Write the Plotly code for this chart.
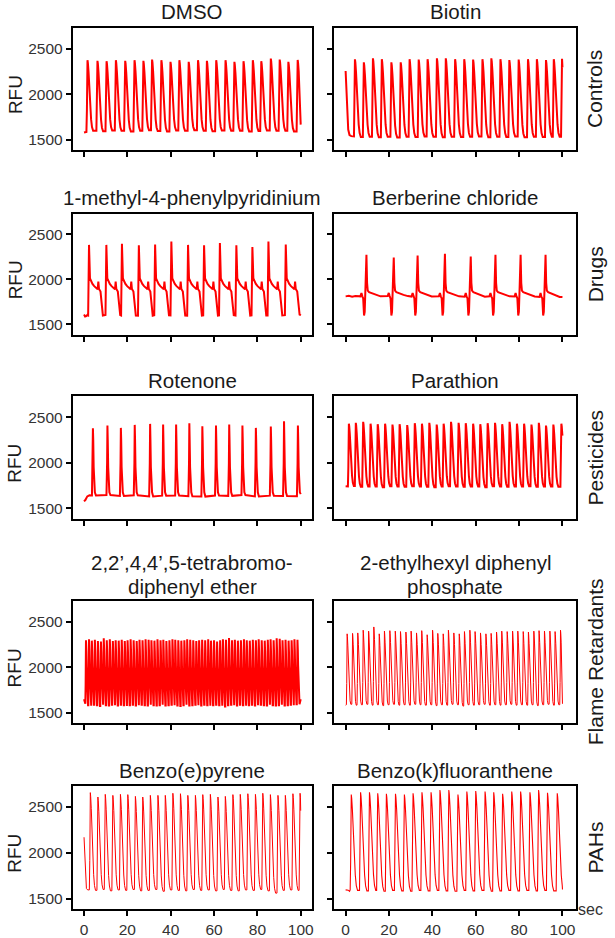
import plotly.graph_objects as go

# ---------------- text ----------------
panel_titles = ["DMSO", "Biotin",
                "1-methyl-4-phenylpyridinium", "Berberine chloride",
                "Rotenone", "Parathion",
                ["2,2\u2019,4,4\u2019,5-tetrabromo-", "diphenyl ether"],
                ["2-ethylhexyl diphenyl", "phosphate"],
                "Benzo(e)pyrene", "Benzo(k)fluoranthene"]
row_labels = ["Controls", "Drugs", "Pesticides", "Flame Retardants", "PAHs"]
x_ticks = [0, 20, 40, 60, 80, 100]
y_ticks = [1500, 2000, 2500]
y_title = "RFU"
x_unit = "sec"

# ---------------- values (sec, RFU) ----------------
dmso_peak_t = [1.6, 6.2, 10.4, 14.7, 19.0, 23.3, 27.4, 31.4, 35.7, 39.9, 44.0, 48.3,
               52.6, 56.7, 61.0, 65.3, 69.4, 73.6, 77.9, 81.8, 86.2, 90.3, 94.3, 98.6]
dmso_peak_v = [2374, 2367, 2363, 2374, 2367, 2374, 2367, 2381, 2374, 2356, 2374, 2356,
               2374, 2367, 2374, 2374, 2356, 2363, 2374, 2363, 2392, 2381, 2356, 2377]
dmso_base_v = [1585, 1598, 1592, 1600, 1596, 1590, 1598, 1602, 1594, 1590, 1600, 1596,
               1604, 1598, 1592, 1600, 1596, 1598, 1590, 1594, 1600, 1596, 1598, 1590]
dmso_lead = [(0.0, 1578), (0.7, 1582)]
dmso_tail = (100.0, 1665)

biotin_peak_t = [4.3, 8.4, 12.6, 16.7, 21.1, 25.4, 29.5, 33.7, 37.8, 42.1, 46.2, 50.5,
                 54.7, 58.8, 63.1, 67.2, 71.4, 75.5, 79.8, 84.1, 88.2, 92.4, 96.0, 99.8]
biotin_peak_v = [2383, 2350, 2395, 2385, 2350, 2350, 2385, 2380, 2385, 2395, 2395, 2385,
                 2385, 2380, 2385, 2395, 2385, 2375, 2380, 2385, 2385, 2375, 2385, 2390]
biotin_base_v = [1535, 1528, 1532, 1525, 1530, 1522, 1530, 1528, 1535, 1530, 1525, 1532,
                 1528, 1530, 1535, 1526, 1530, 1528, 1533, 1525, 1530, 1528, 1532, 1530]
biotin_lead = [(0.0, 2255), (0.35, 2020), (0.75, 1780), (1.2, 1610), (1.8, 1550), (2.6, 1538)]
biotin_tail = (100.0, 2295)

mpp_peak_t = [2.3, 10.3, 17.5, 25.3, 32.8, 40.3, 48.0, 55.4, 62.7, 70.3, 77.7, 85.1, 93.1]
mpp_peak_v = [2383, 2383, 2395, 2380, 2387, 2420, 2383, 2380, 2405, 2380, 2360, 2420, 2387]
mpp_base_v = [1600, 1605, 1600, 1598, 1602, 1600, 1598, 1600, 1602, 1598, 1600, 1600, 1603]
mpp_lead = [(0.0, 1610), (0.5, 1588), (1.0, 1592), (1.5, 1605)]
mpp_tail = (100.0, 1615)

berb_peak_t = [9.6, 22.2, 33.2, 45.8, 57.7, 69.1, 80.7, 92.2]
berb_peak_v = [2273, 2244, 2265, 2285, 2255, 2273, 2273, 2273]
berb_base_v = [1812, 1815, 1810, 1812, 1808, 1812, 1810, 1806]
berb_lead = [(0.0, 1812), (1.5, 1818), (3.0, 1808), (4.5, 1815)]
berb_tail = (100.0, 1805)

rot_peak_t = [4.1, 10.8, 17.0, 23.4, 30.5, 36.5, 42.5, 48.6, 54.6, 60.9, 67.0, 73.1,
              79.3, 86.2, 92.3, 98.7]
rot_peak_v = [2381, 2410, 2384, 2417, 2428, 2421, 2421, 2435, 2403, 2410, 2421, 2410,
              2384, 2399, 2457, 2410]
rot_base_v = [1640, 1645, 1635, 1642, 1630, 1638, 1640, 1632, 1628, 1640, 1636, 1645,
              1630, 1638, 1635, 1632]
rot_lead = [(0.0, 1575), (0.6, 1590), (1.5, 1630), (2.5, 1642)]
rot_tail = (100.0, 1655)

para_peak_t = [1.5, 4.7, 8.1, 11.5, 14.8, 18.2, 21.6, 24.9, 28.4, 31.9, 35.2, 38.6,
               42.0, 45.2, 48.6, 52.1, 55.4, 58.8, 62.1, 65.5, 68.9, 72.2, 75.6, 79.0,
               82.3, 85.7, 89.1, 92.4, 95.8, 99.5]
para_peak_v = [2430, 2440, 2450, 2430, 2425, 2430, 2420, 2425, 2415, 2435, 2430, 2440,
               2420, 2430, 2450, 2440, 2435, 2430, 2425, 2435, 2440, 2425, 2450, 2430,
               2430, 2420, 2440, 2410, 2420, 2430]
para_base_v = [1740, 1745, 1735, 1740, 1738, 1730, 1742, 1738, 1735, 1742, 1740, 1735,
               1730, 1738, 1742, 1740, 1735, 1738, 1740, 1732, 1742, 1738, 1735, 1740,
               1738, 1742, 1735, 1738, 1740, 1736]
para_lead = [(0.0, 1742)]
para_tail = (100.0, 2300)

tbde_peak_t = [0.9, 2.3, 3.6, 5.0, 6.4, 7.8, 9.1, 10.5, 11.9, 13.3,
               14.6, 16.0, 17.4, 18.8, 20.1, 21.5, 22.9, 24.3, 25.6, 27.0,
               28.4, 29.8, 31.1, 32.5, 33.9, 35.3, 36.6, 38.0, 39.4, 40.8,
               42.1, 43.5, 44.9, 46.3, 47.6, 49.0, 50.4, 51.8, 53.1, 54.5,
               55.9, 57.3, 58.6, 60.0, 61.4, 62.8, 64.1, 65.5, 66.9, 68.3,
               69.6, 71.0, 72.4, 73.8, 75.1, 76.5, 77.9, 79.3, 80.6, 82.0,
               83.4, 84.8, 86.1, 87.5, 88.9, 90.3, 91.6, 93.0, 94.4, 95.8,
               97.1, 98.5]
tbde_peak_v = [2300, 2310, 2295, 2305, 2290, 2285, 2320, 2300, 2310, 2290,
               2300, 2295, 2305, 2290, 2300, 2310, 2300, 2290, 2305, 2300,
               2310, 2305, 2300, 2295, 2310, 2300, 2305, 2290, 2300, 2310,
               2305, 2300, 2295, 2300, 2310, 2305, 2300, 2290, 2300, 2305,
               2300, 2310, 2295, 2300, 2285, 2300, 2310, 2305, 2325, 2300,
               2305, 2295, 2300, 2310, 2300, 2295, 2305, 2300, 2310, 2300,
               2295, 2305, 2310, 2300, 2320, 2315, 2300, 2305, 2295, 2300,
               2310, 2305]
tbde_base_v = [1600, 1585, 1580, 1590, 1585, 1575, 1590, 1585, 1580, 1590,
               1585, 1580, 1590, 1585, 1575, 1585, 1590, 1580, 1585, 1590,
               1585, 1580, 1590, 1585, 1580, 1585, 1590, 1580, 1585, 1590,
               1585, 1580, 1575, 1585, 1590, 1580, 1585, 1590, 1585, 1580,
               1590, 1585, 1580, 1585, 1590, 1585, 1580, 1570, 1585, 1590,
               1585, 1580, 1590, 1585, 1580, 1585, 1590, 1580, 1585, 1590,
               1585, 1580, 1590, 1585, 1580, 1585, 1590, 1580, 1585, 1590,
               1585, 1595]
tbde_lead = [(0.0, 1650)]
tbde_tail = (100.0, 1650)

ehdpp_peak_t = [0.7, 3.2, 5.6, 8.1, 10.6, 13.0, 15.5, 17.9, 20.4, 22.9,
                25.3, 27.8, 30.2, 32.7, 35.1, 37.6, 40.1, 42.5, 45.0, 47.4,
                49.9, 52.4, 54.8, 57.3, 59.7, 62.2, 64.7, 67.1, 69.6, 72.0,
                74.5, 77.0, 79.4, 81.9, 84.3, 86.8, 89.2, 91.7, 94.2, 96.6, 99.1]
ehdpp_peak_v = [2370, 2375, 2380, 2410, 2400, 2446, 2370, 2400, 2405, 2400,
                2395, 2390, 2400, 2380, 2405, 2360, 2410, 2375, 2370, 2410,
                2380, 2370, 2395, 2410, 2395, 2380, 2370, 2375, 2390, 2400,
                2395, 2400, 2400, 2395, 2390, 2400, 2405, 2400, 2400, 2395, 2410]
ehdpp_base_v = [1590, 1595, 1585, 1590, 1595, 1585, 1590, 1580, 1590, 1595,
                1585, 1590, 1585, 1595, 1590, 1585, 1590, 1580, 1590, 1585,
                1595, 1590, 1575, 1590, 1585, 1590, 1595, 1585, 1590, 1585,
                1590, 1595, 1585, 1590, 1585, 1590, 1580, 1590, 1595, 1585, 1590]
ehdpp_lead = [(0.0, 1585)]
ehdpp_tail = (100.0, 1600)

bep_peak_t = [2.9, 6.4, 9.8, 13.3, 16.8, 20.2, 23.7, 27.1, 30.6, 34.1,
              37.5, 41.0, 44.5, 47.9, 51.4, 54.8, 58.3, 61.8, 65.2, 68.7,
              72.1, 75.6, 79.1, 82.5, 86.0, 89.5, 92.9, 96.4, 99.7]
bep_peak_v = [2657, 2609, 2638, 2627, 2638, 2635, 2616, 2609, 2627, 2627,
              2627, 2650, 2645, 2627, 2627, 2635, 2638, 2609, 2616, 2635,
              2638, 2645, 2638, 2650, 2635, 2627, 2627, 2645, 2650]
bep_base_v = [1595, 1590, 1600, 1585, 1595, 1590, 1600, 1585, 1590, 1600,
              1580, 1595, 1590, 1585, 1600, 1590, 1595, 1585, 1600, 1590,
              1585, 1595, 1590, 1600, 1585, 1560, 1590, 1595, 1590]
bep_lead = [(0.0, 2170), (0.3, 1950), (0.65, 1720), (1.1, 1610), (1.7, 1595)]
bep_tail = (100.0, 2460)

bkf_peak_t = [2.6, 6.9, 11.0, 14.8, 18.8, 23.0, 27.1, 31.1, 35.2, 39.4, 43.5, 47.6,
              51.8, 55.9, 60.0, 64.3, 68.3, 72.4, 76.6, 80.7, 85.0, 89.0, 93.1, 97.6]
bkf_peak_v = [2636, 2661, 2661, 2650, 2645, 2645, 2636, 2650, 2661, 2661, 2685, 2685,
              2636, 2670, 2675, 2670, 2661, 2645, 2670, 2670, 2661, 2685, 2655, 2650]
bkf_base_v = [1595, 1590, 1585, 1590, 1580, 1590, 1585, 1580, 1590, 1585, 1590, 1585,
              1580, 1590, 1585, 1590, 1580, 1585, 1590, 1585, 1590, 1585, 1590, 1585]
bkf_lead = [(0.0, 1595), (1.2, 1592), (1.8, 1580)]
bkf_tail = (100.0, 1600)

# ---------------- pulse shapes ----------------
# generic transient: (time as fraction of rise/decay, level as fraction base->peak)
RISE = [(-1.0, 0.0), (-0.55, 0.3), (-0.2, 0.85), (0.0, 1.0)]
DECAY = [(0.07, 0.96), (0.18, 0.84), (0.32, 0.6), (0.48, 0.35), (0.64, 0.16),
         (0.8, 0.05), (1.0, 0.0)]
# special shapes: (sec from peak, 'P' peak / 'B' baseline / RFU level)
MPP_SHAPE = [(-0.4, 'B'), (-0.15, 2050), (0.0, 'P'), (0.45, 2010), (0.9, 1985),
             (1.6, 1950), (2.4, 1925), (3.3, 1905), (4.0, 1890), (4.3, 1975),
             (4.6, 1895), (5.3, 1865), (5.8, 1760), (6.2, 1640), (6.4, 'B')]
BERB_SHAPE = [(-2.8, 'B'), (-2.3, 1850), (-1.9, 'B'), (-1.5, 1790), (-1.1, 1600),
              (-0.8, 1640), (-0.4, 1950), (0.0, 'P'), (0.3, 1960), (0.6, 1875),
              (1.2, 1858), (2.5, 1845), (4.5, 1828), (6.5, 'B')]
ROT_SHAPE = [(-0.45, 'B'), (-0.15, 2000), (0.0, 'P'), (0.15, 2250), (0.35, 1950),
             (0.6, 1750), (0.9, 1675), (1.4, 'B')]


def pulse_train(peak_t, peak_v, base_v, lead, tail, rise, decay):
    xs = [p[0] for p in lead]
    ys = [p[1] for p in lead]
    n = len(peak_t)
    for i in range(n):
        tp, pv = peak_t[i], peak_v[i]
        b0 = base_v[i]
        b1 = base_v[i + 1] if i + 1 < n else base_v[i]
        limit = peak_t[i + 1] - rise if i + 1 < n else tail[0]
        pts = [(tp + f * rise, b0 + g * (pv - b0)) for f, g in RISE]
        for f, g in DECAY:
            t = tp + f * decay
            if t < limit:
                pts.append((t, b1 + g * (pv - b1)))
        for t, v in pts:
            if xs[-1] < t < tail[0]:
                xs.append(t)
                ys.append(v)
    xs.append(tail[0])
    ys.append(tail[1])
    return xs, ys


def shaped_train(peak_t, peak_v, base_v, lead, tail, shape):
    xs = [p[0] for p in lead]
    ys = [p[1] for p in lead]
    for tp, pv, bv in zip(peak_t, peak_v, base_v):
        for dt, v in shape:
            t = tp + dt
            val = pv if v == 'P' else (bv if v == 'B' else v)
            if xs[-1] < t < tail[0]:
                xs.append(t)
                ys.append(val)
    xs.append(tail[0])
    ys.append(tail[1])
    return xs, ys


traces = [
    (pulse_train(dmso_peak_t, dmso_peak_v, dmso_base_v, dmso_lead, dmso_tail, 0.5, 2.6), 2.0),
    (pulse_train(biotin_peak_t, biotin_peak_v, biotin_base_v, biotin_lead, biotin_tail, 0.45, 2.7), 2.0),
    (shaped_train(mpp_peak_t, mpp_peak_v, mpp_base_v, mpp_lead, mpp_tail, MPP_SHAPE), 2.0),
    (shaped_train(berb_peak_t, berb_peak_v, berb_base_v, berb_lead, berb_tail, BERB_SHAPE), 2.0),
    (shaped_train(rot_peak_t, rot_peak_v, rot_base_v, rot_lead, rot_tail, ROT_SHAPE), 2.0),
    (pulse_train(para_peak_t, para_peak_v, para_base_v, para_lead, para_tail, 0.45, 2.3), 2.0),
    (pulse_train(tbde_peak_t, tbde_peak_v, tbde_base_v, tbde_lead, tbde_tail, 0.3, 0.95), 2.0),
    (pulse_train(ehdpp_peak_t, ehdpp_peak_v, ehdpp_base_v, ehdpp_lead, ehdpp_tail, 0.35, 1.7), 1.0),
    (pulse_train(bep_peak_t, bep_peak_v, bep_base_v, bep_lead, bep_tail, 0.45, 2.4), 1.0),
    (pulse_train(bkf_peak_t, bkf_peak_v, bkf_base_v, bkf_lead, bkf_tail, 0.5, 2.9), 1.1),
]

# ---------------- layout geometry (pixels) ----------------
W, H = 615, 938
col_px = [(73, 313), (335, 578)]
col_xrange = [[-5.2, 105.2], [-5.4, 106.3]]
row_px = [(28, 151), (215, 337), (399, 522), (605, 728), (791, 915)]
y_range = [1385, 2730]
FONT = "Liberation Sans, Arial, sans-serif"

fig = go.Figure()
layout = dict(width=W, height=H, margin=dict(l=0, r=0, t=0, b=0),
              paper_bgcolor="white", plot_bgcolor="white", showlegend=False,
              font=dict(family=FONT, color="#222"))
annotations = []

for k, ((xs, ys), lw) in enumerate(traces):
    r, c = divmod(k, 2)
    xid = "" if k == 0 else str(k + 1)
    fig.add_trace(go.Scatter(x=xs, y=ys, mode="lines", xaxis="x" + xid, yaxis="y" + xid,
                             line=dict(color="#ff0000", width=lw), hoverinfo="skip"))
    x0, x1 = col_px[c]
    y0, y1 = row_px[r]
    common = dict(showline=True, mirror=True, linecolor="black", linewidth=2,
                  ticks="outside", ticklen=5, tickwidth=1.6, tickcolor="black",
                  showgrid=False, zeroline=False,
                  tickfont=dict(family=FONT, size=15.5, color="#333"))
    layout["xaxis" + xid] = dict(domain=[x0 / W, x1 / W], range=col_xrange[c],
                                 tickvals=x_ticks, showticklabels=(r == 4),
                                 anchor="y" + xid, **common)
    layout["yaxis" + xid] = dict(domain=[1 - y1 / H, 1 - y0 / H], range=y_range,
                                 tickvals=y_ticks, showticklabels=(c == 0),
                                 anchor="x" + xid, **common)
    # panel title
    cx = (x0 + x1) / 2 / W
    title = panel_titles[k]
    if isinstance(title, list):
        for line, cy in zip(title, (566.5, 590.5)):
            annotations.append(dict(text=line, x=cx, y=1 - cy / H, xref="paper", yref="paper",
                                    xanchor="center", yanchor="middle", showarrow=False,
                                    font=dict(family=FONT, size=20.5, color="#1a1a1a")))
    else:
        annotations.append(dict(text=title, x=cx, y=1 - (y0 - 16) / H, xref="paper",
                                yref="paper", xanchor="center", yanchor="middle",
                                showarrow=False,
                                font=dict(family=FONT, size=20.5, color="#1a1a1a")))
    if c == 0:
        annotations.append(dict(text=y_title, x=15 / W, y=2000, xref="paper", yref="y" + xid,
                                xanchor="center", yanchor="middle", textangle=-90,
                                showarrow=False,
                                font=dict(family=FONT, size=19, color="#1a1a1a")))
    else:
        annotations.append(dict(text=row_labels[r], x=597 / W, y=1 - (y0 + y1) / 2 / H,
                                xref="paper", yref="paper", xanchor="center",
                                yanchor="middle", textangle=-90, showarrow=False,
                                font=dict(family=FONT, size=21, color="#1a1a1a")))

annotations.append(dict(text=x_unit, x=592 / W, y=1 - 915 / H, xref="paper", yref="paper",
                        xanchor="center", yanchor="middle", showarrow=False,
                        font=dict(family=FONT, size=16, color="#333")))
layout["annotations"] = annotations
fig.update_layout(**layout)
fig.write_html("out.html",
               config={"displayModeBar": False},
               post_script="document.body.style.margin='0';"
                           "document.body.style.padding='0';"
                           "document.body.style.overflow='hidden';")
